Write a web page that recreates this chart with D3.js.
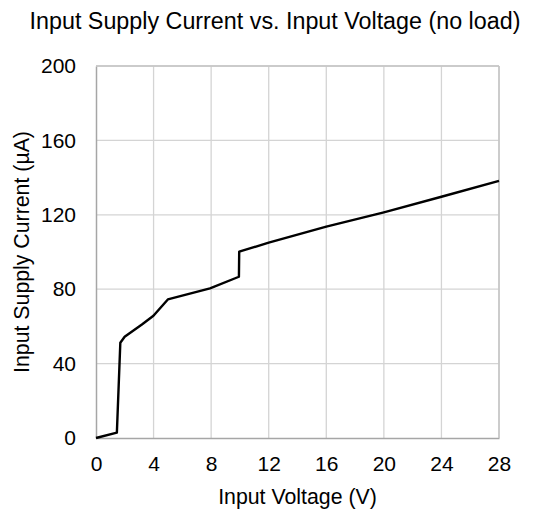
<!DOCTYPE html>
<html>
<head>
<meta charset="utf-8">
<script src="https://cdn.jsdelivr.net/npm/d3@7"></script>
<style>
  body { margin: 0; background: #fff; }
  text { font-family: "Liberation Sans", Arial, sans-serif; fill: #000; }
</style>
</head>
<body>
<div id="container"></div>
<script>
var W = 535, H = 509,
    margin = {top: 66, right: 36, bottom: 71, left: 96};

// measured curve, supply current (µA) vs input voltage (V)
var voltage = [0, 1.45, 1.69, 1.99, 3.19, 3.99, 4.99, 7.92, 9.93, 9.95, 12, 16, 20, 24, 28];
var current = [0, 2.9, 51.2, 54.4, 61, 65.7, 74.5, 80.4, 86.7, 100.2, 105, 113.6, 121.3, 129.7, 138.2];
var xTicks = [0, 4, 8, 12, 16, 20, 24, 28];
var yTicks = [0, 40, 80, 120, 160, 200];

var dataset = voltage.map((v, i) => ({x: v, y: current[i]}));

var svg = d3.select('#container').append('svg')
    .attr('width', W)
    .attr('height', H);

var xScale = d3.scaleLinear().domain([0, 28]).range([margin.left, W - margin.right]);
var yScale = d3.scaleLinear().domain([0, 200]).range([H - margin.bottom, margin.top]);

/* gridlines */
svg.append('g').selectAll('line.vgrid').data(xTicks.slice(1))
  .enter().append('line')
    .attr('x1', d => xScale(d)).attr('x2', d => xScale(d))
    .attr('y1', yScale(0)).attr('y2', yScale(200))
    .attr('stroke', '#d4d4d4').attr('stroke-width', 1.3);
svg.append('g').selectAll('line.hgrid').data(yTicks.slice(1))
  .enter().append('line')
    .attr('x1', xScale(0)).attr('x2', xScale(28))
    .attr('y1', d => yScale(d)).attr('y2', d => yScale(d))
    .attr('stroke', '#d4d4d4').attr('stroke-width', 1.3);

/* axes */
var xAxis = d3.axisBottom(xScale).tickValues(xTicks).tickSize(0).tickPadding(18);
svg.append('g')
    .attr('transform', `translate(0, ${yScale(0)})`)
    .call(xAxis)
    .call(g => g.select('.domain').attr('stroke', '#a6a6a6').attr('stroke-width', 1.5))
    .selectAll('text').style('font-size', '21px').attr('fill', '#000');

var yAxis = d3.axisLeft(yScale).tickValues(yTicks).tickSize(0).tickPadding(20);
svg.append('g')
    .attr('transform', `translate(${xScale(0)}, 0)`)
    .call(yAxis)
    .call(g => g.select('.domain').attr('stroke', '#a6a6a6').attr('stroke-width', 1.5))
    .selectAll('text').style('font-size', '21px').attr('fill', '#000');

/* right and top border */
svg.append('line')
    .attr('x1', xScale(28)).attr('x2', xScale(28))
    .attr('y1', yScale(0)).attr('y2', yScale(200))
    .attr('stroke', '#c4c4c4').attr('stroke-width', 1.5);
svg.append('line')
    .attr('x1', xScale(0)).attr('x2', xScale(28))
    .attr('y1', yScale(200)).attr('y2', yScale(200))
    .attr('stroke', '#c4c4c4').attr('stroke-width', 1.3);

/* curve */
var line = d3.line().x(d => xScale(d.x)).y(d => yScale(d.y));
svg.append('path')
    .datum(dataset)
    .attr('d', line)
    .attr('fill', 'none')
    .attr('stroke', '#000')
    .attr('stroke-width', 2.4)
    .attr('stroke-linejoin', 'round');

/* titles */
svg.append('text')
    .attr('x', 275).attr('y', 28.5)
    .attr('text-anchor', 'middle')
    .style('font-size', '23.3px')
    .text('Input Supply Current vs. Input Voltage (no load)');

svg.append('text')
    .attr('x', xScale(14)).attr('y', 504)
    .attr('text-anchor', 'middle')
    .style('font-size', '21.3px')
    .text('Input Voltage (V)');

svg.append('text')
    .attr('transform', `translate(29, ${yScale(100)}) rotate(-90)`)
    .attr('text-anchor', 'middle')
    .style('font-size', '21.3px')
    .text('Input Supply Current (µA)');
</script>
</body>
</html>
